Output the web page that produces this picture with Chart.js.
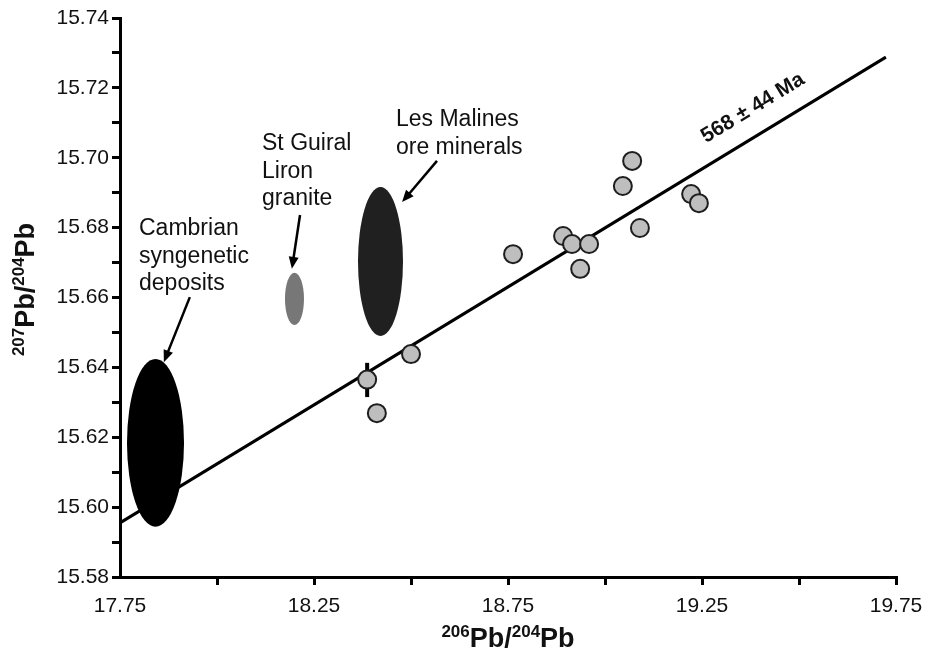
<!DOCTYPE html>
<html><head><meta charset="utf-8">
<script src="https://cdn.jsdelivr.net/npm/chart.js@4.4.0/dist/chart.umd.min.js"></script>
<style>html,body{margin:0;padding:0;background:#fff;}#wrap{width:932px;height:651px;}</style>
</head><body><div id="wrap"><canvas id="c" width="932" height="651"></canvas></div>
<script>
// ---- data ----
const samplePb206 = [18.387, 18.412, 18.500, 18.763, 18.892, 18.915, 18.959, 18.936, 19.046, 19.070, 19.090, 19.222, 19.242];
const samplePb207 = [15.6365, 15.6269, 15.6438, 15.6724, 15.6776, 15.6753, 15.6753, 15.6682, 15.6919, 15.6991, 15.6799, 15.6896, 15.6870];
const errorBarPb206 = [18.387, 18.387];
const errorBarPb207 = [15.6315, 15.6413];
const isochronPb206 = [17.75, 19.724];
const isochronPb207 = [15.5955, 15.7288];
const isochronLabel = '568 \u00B1 44 Ma';
const fieldLabels = [['Cambrian', 'syngenetic', 'deposits'], ['St Guiral', 'Liron', 'granite'], ['Les Malines', 'ore minerals']];
const fieldCenterPb206 = [17.8415, 18.1997, 18.4214];
const fieldCenterPb207 = [15.6184, 15.6596, 15.6703];
const fieldHalfWidthPb206 = [0.0735, 0.0245, 0.058];
const fieldHalfHeightPb207 = [0.0240, 0.0075, 0.0213];
const xTickLabels = ['17.75', '18.25', '18.75', '19.25', '19.75'];
const yTickLabels = ['15.58', '15.60', '15.62', '15.64', '15.66', '15.68', '15.70', '15.72', '15.74'];
const xTitleParts = [['206', true], ['Pb/', false], ['204', true], ['Pb', false]];
const yTitleParts = [['207', true], ['Pb/', false], ['204', true], ['Pb', false]];

// ---- layout / style (not data) ----
const FONT = '"Liberation Sans", Arial, sans-serif';
const fieldColors = ['#000000', '#777777', '#202020'];
const labelAnchors = [[17.799, 15.6779], [18.116, 15.7022], [18.4613, 15.7091]];
const arrowFrom = [[17.930, 15.6601], [18.214, 15.6836], [18.567, 15.6991]];
const arrowTo = [[17.863, 15.6415], [18.193, 15.6682], [18.477, 15.6873]];
const isoLabelAt = [19.389, 15.7128];

function drawArrow(ctx, x1, y1, x2, y2) {
  const a = Math.atan2(y2 - y1, x2 - x1), L = 12, W = 5;
  ctx.beginPath(); ctx.moveTo(x1, y1);
  ctx.lineTo(x2 - (L - 2) * Math.cos(a), y2 - (L - 2) * Math.sin(a));
  ctx.lineWidth = 2.5; ctx.strokeStyle = '#000'; ctx.stroke();
  ctx.beginPath(); ctx.moveTo(x2, y2);
  ctx.lineTo(x2 - L * Math.cos(a) + W * Math.sin(a), y2 - L * Math.sin(a) - W * Math.cos(a));
  ctx.lineTo(x2 - L * Math.cos(a) - W * Math.sin(a), y2 - L * Math.sin(a) + W * Math.cos(a));
  ctx.closePath(); ctx.fillStyle = '#000'; ctx.fill();
}
function drawParts(ctx, parts, x, y, align) {
  const big = 'bold 27px ' + FONT, small = 'bold 17px ' + FONT;
  let w = 0;
  parts.forEach(p => { ctx.font = p[1] ? small : big; w += ctx.measureText(p[0]).width; });
  let cx = align === 'center' ? x - w / 2 : x;
  ctx.textAlign = 'left'; ctx.textBaseline = 'alphabetic'; ctx.fillStyle = '#111';
  parts.forEach(p => {
    ctx.font = p[1] ? small : big;
    ctx.fillText(p[0], cx, p[1] ? y - 10 : y);
    cx += ctx.measureText(p[0]).width;
  });
}

const fieldsPlugin = {
  id: 'fields',
  beforeDatasetsDraw(chart) {
    const ctx = chart.ctx, xs = chart.scales.x, ys = chart.scales.y;
    ctx.save();
    fieldCenterPb206.forEach((cx, i) => {
      const px = xs.getPixelForValue(cx), py = ys.getPixelForValue(fieldCenterPb207[i]);
      const rx = Math.abs(xs.getPixelForValue(cx + fieldHalfWidthPb206[i]) - px);
      const ry = Math.abs(ys.getPixelForValue(fieldCenterPb207[i] + fieldHalfHeightPb207[i]) - py);
      ctx.beginPath(); ctx.ellipse(px, py, rx, ry, 0, 0, Math.PI * 2);
      ctx.fillStyle = fieldColors[i]; ctx.fill();
    });
    ctx.restore();
  },
  afterDraw(chart) {
    const ctx = chart.ctx, xs = chart.scales.x, ys = chart.scales.y;
    ctx.save();
    fieldLabels.forEach((lines, i) => {
      const lx = xs.getPixelForValue(labelAnchors[i][0]), ly = ys.getPixelForValue(labelAnchors[i][1]);
      ctx.font = '23px ' + FONT; ctx.fillStyle = '#111'; ctx.textAlign = 'left'; ctx.textBaseline = 'alphabetic';
      lines.forEach((t, k) => ctx.fillText(t, lx, ly + k * 27.7));
      drawArrow(ctx, xs.getPixelForValue(arrowFrom[i][0]), ys.getPixelForValue(arrowFrom[i][1]),
                xs.getPixelForValue(arrowTo[i][0]), ys.getPixelForValue(arrowTo[i][1]));
    });
    const ax = xs.getPixelForValue(isochronPb206[0]), ay = ys.getPixelForValue(isochronPb207[0]);
    const bx = xs.getPixelForValue(isochronPb206[1]), by = ys.getPixelForValue(isochronPb207[1]);
    const ang = Math.atan2(by - ay, bx - ax);
    ctx.translate(xs.getPixelForValue(isoLabelAt[0]), ys.getPixelForValue(isoLabelAt[1]));
    ctx.rotate(ang);
    ctx.font = 'bold 21px ' + FONT; ctx.textAlign = 'center'; ctx.textBaseline = 'alphabetic'; ctx.fillStyle = '#111';
    ctx.fillText(isochronLabel, 0, 0);
    ctx.restore();
    ctx.save();
    drawParts(ctx, xTitleParts, (chart.chartArea.left + chart.chartArea.right) / 2, 647, 'center');
    ctx.translate(34, (chart.chartArea.top + chart.chartArea.bottom) / 2 - 8);
    ctx.rotate(-Math.PI / 2);
    drawParts(ctx, yTitleParts, 0, 0, 'center');
    ctx.restore();
  }
};

function findLabel(arr, v) {
  const hit = arr.find(l => Math.abs(parseFloat(l) - v) < 1e-6);
  return hit === undefined ? '' : hit;
}

new Chart(document.getElementById('c'), {
  type: 'scatter',
  data: {
    datasets: [
      { type: 'line', data: isochronPb206.map((x, i) => ({ x, y: isochronPb207[i] })), borderColor: '#000', borderWidth: 3, pointRadius: 0, fill: false, order: 3, clip: false },
      { type: 'line', data: errorBarPb206.map((x, i) => ({ x, y: errorBarPb207[i] })), borderColor: '#000', borderWidth: 4, pointRadius: 0, fill: false, order: 2 },
      { data: samplePb206.map((x, i) => ({ x, y: samplePb207[i] })), backgroundColor: '#bebebe', borderColor: '#1e1e1e', borderWidth: 2, pointRadius: 9, order: 1 }
    ]
  },
  options: {
    responsive: false, animation: false, devicePixelRatio: 1,
    layout: { padding: { top: 18, right: 36, left: 0, bottom: 0 } },
    plugins: { legend: { display: false }, tooltip: { enabled: false } },
    scales: {
      x: {
        type: 'linear', min: 17.75, max: 19.75,
        afterFit(s) { s.height = 74; },
        border: { display: true, color: '#000', width: 3 },
        grid: { drawOnChartArea: false, drawTicks: true, tickLength: 8, lineWidth: 3, color: c => c.index === 0 ? 'rgba(0,0,0,0)' : '#000' },
        ticks: { stepSize: 0.25, autoSkip: false, maxRotation: 0, color: '#111', padding: 9,
          font: { family: FONT, size: 21 }, callback: v => findLabel(xTickLabels, v) }
      },
      y: {
        type: 'linear', min: 15.58, max: 15.74,
        afterFit(s) { s.width = 120; },
        border: { display: true, color: '#000', width: 3 },
        grid: { drawOnChartArea: false, drawTicks: true, tickLength: 8, lineWidth: 3, color: '#000' },
        ticks: { stepSize: 0.01, autoSkip: false, color: '#111', padding: 3,
          font: { family: FONT, size: 21 }, callback: v => findLabel(yTickLabels, v) }
      }
    }
  },
  plugins: [fieldsPlugin]
});
</script>
</body></html>
